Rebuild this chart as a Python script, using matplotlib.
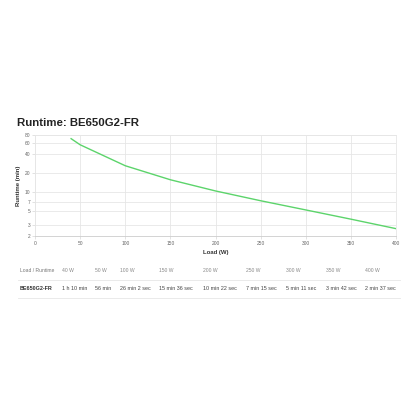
import matplotlib
matplotlib.use("Agg")
import matplotlib.pyplot as plt

plt.rcParams['font.family'] = ['Liberation Sans', 'DejaVu Sans']

model = "BE650G2-FR"
loads = [40, 50, 100, 150, 200, 250, 300, 350, 400]
runtime_min = [70, 56, 26 + 2 / 60, 15 + 36 / 60, 10 + 22 / 60,
               7 + 15 / 60, 5 + 11 / 60, 3 + 42 / 60, 2 + 37 / 60]
runtime_text = ["1 h 10 min", "56 min", "26 min 2 sec", "15 min 36 sec",
                "10 min 22 sec", "7 min 15 sec", "5 min 11 sec",
                "3 min 42 sec", "2 min 37 sec"]
yticks = [2, 3, 5, 7, 10, 20, 40, 60, 80]
xticks = [0, 50, 100, 150, 200, 250, 300, 350, 400]

W = H = 416
fig = plt.figure(figsize=(4.16, 4.16), dpi=100)
fig.patch.set_facecolor("white")


def px(x, y):
    return x / W, 1 - y / H


# chart area in pixels
L, R, T, B = 35, 396, 135, 236
ax = fig.add_axes([L / W, 1 - B / H, (R - L) / W, (B - T) / H])
ax.plot(loads, runtime_min, color="#5cd46b", lw=1.0)
ax.set_yscale("log")
ax.set_ylim(2, 80)
ax.set_xlim(0, 400)
ax.set_yticks(yticks)
ax.set_yticklabels([str(v) for v in yticks])
ax.yaxis.set_minor_locator(matplotlib.ticker.NullLocator())
ax.set_xticks(xticks)
ax.grid(True, color="#e6e6e6", lw=0.6)
for s in ["top", "right", "left"]:
    ax.spines[s].set_color("#e6e6e6")
    ax.spines[s].set_linewidth(0.6)
ax.spines["bottom"].set_color("#cccccc")
ax.spines["bottom"].set_linewidth(0.6)
ax.tick_params(labelsize=3.5, labelcolor="#666666", length=2, width=0.4,
               color="#cccccc", pad=1.5)
ax.set_xlabel("Load (W)", fontsize=4.3, fontweight="bold", color="#333333",
              labelpad=3)
ax.set_ylabel("Runtime (min)", fontsize=4.3, fontweight="bold",
              color="#333333", labelpad=2.5)

# title
fig.text(*px(17, 123), "Runtime: " + model, fontsize=8.2, fontweight="bold",
         color="#222222", va="center", ha="left")

# table below the chart
col_x = [62, 95, 120, 159, 203, 246, 286, 326, 365]
fig.text(*px(20, 270), "Load / Runtime", fontsize=3.6, color="#777777",
         va="center")
fig.text(*px(20, 288), model, fontsize=3.9, fontweight="bold",
         color="#333333", va="center")
for x, ld, rt in zip(col_x, loads, runtime_text):
    fig.text(*px(x, 270), f"{ld} W", fontsize=3.6, color="#888888",
             va="center")
    fig.text(*px(x, 288), rt, fontsize=3.9, color="#444444", va="center")

for yl in [280, 298]:
    fig.add_artist(plt.Line2D([18 / W, 400 / W], [1 - yl / H, 1 - yl / H],
                              color="#e6e6e6", lw=0.6))

fig.savefig("out.png", dpi=100, facecolor="white")
